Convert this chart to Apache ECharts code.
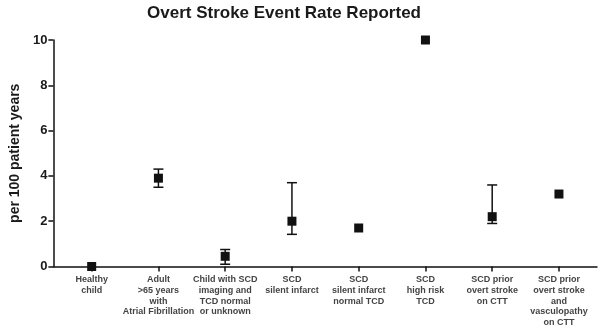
<!DOCTYPE html>
<html>
<head>
<meta charset="utf-8">
<script src="https://cdn.jsdelivr.net/npm/echarts@6/dist/echarts.min.js"></script>
<style>
  html, body { margin: 0; padding: 0; background: #fff; }
  #chart { width: 600px; height: 328px; }
</style>
</head>
<body>
<div id="chart"></div>
<script>
// categories along the x axis
const categories = [
  'Healthy\nchild',
  'Adult\n>65 years\nwith\nAtrial Fibrillation',
  'Child with SCD\nimaging and\nTCD normal\nor unknown',
  'SCD\nsilent infarct',
  'SCD\nsilent infarct\nnormal TCD',
  'SCD\nhigh risk\nTCD',
  'SCD prior\novert stroke\non CTT',
  'SCD prior\novert stroke\nand\nvasculopathy\non CTT'
];
// point estimates and error range (null = no bar)
const rates = [0, 3.9, 0.45, 2.0, 1.7, 10, 2.2, 3.2];
const lowVals = [null, 3.5, 0.1, 1.42, null, null, 1.9, null];
const highVals = [null, 4.3, 0.75, 3.7, null, null, 3.6, null];
const yTicks = [0, 2, 4, 6, 8, 10];

const chart = echarts.init(document.getElementById('chart'));
const font = 'Liberation Sans, Arial, sans-serif';

const pointData = rates.map((v, i) => [i, v]);
const errData = [];
rates.forEach((v, i) => {
  if (lowVals[i] !== null) errData.push([i, lowVals[i], highVals[i]]);
});

chart.setOption({
  animation: false,
  title: {
    text: 'Overt Stroke Event Rate Reported',
    left: 279, top: 0, textAlign: 'center',
    textStyle: { fontFamily: font, fontSize: 17, fontWeight: 'bold', color: '#1a1a1a' }
  },
  grid: { left: 43, right: 3, top: 40, bottom: 61 },
  xAxis: {
    type: 'value',
    min: -0.574, max: 7.57,
    axisLine: { show: true, onZero: false, lineStyle: { color: '#111', width: 1.5 } },
    axisTick: { show: true, length: 5, customValues: [0, 1, 2, 3, 4, 5, 6, 7], lineStyle: { color: '#111', width: 1.5 } },
    splitLine: { show: false },
    axisLabel: {
      customValues: [0, 1, 2, 3, 4, 5, 6, 7],
      formatter: v => categories[Math.round(v)],
      fontFamily: font, fontSize: 9, fontWeight: 'bold', color: '#444',
      lineHeight: 10.7, margin: 8, align: 'center'
    }
  },
  yAxis: {
    type: 'value',
    min: 0, max: 10, interval: 2,
    name: 'per 100 patient years',
    nameLocation: 'middle', nameGap: 27,
    nameTextStyle: { fontFamily: font, fontSize: 14, fontWeight: 'bold', color: '#1a1a1a' },
    axisLine: { show: true, onZero: false, lineStyle: { color: '#111', width: 1.5 } },
    axisTick: { show: true, length: 5, lineStyle: { color: '#111', width: 1.5 } },
    splitLine: { show: false },
    axisLabel: { fontFamily: font, fontSize: 13, fontWeight: 'bold', color: '#1a1a1a', margin: 6 }
  },
  series: [
    {
      type: 'custom',
      data: errData,
      renderItem: (params, api) => {
        const x = api.value(0);
        const lo = api.coord([x, api.value(1)]);
        const hi = api.coord([x, api.value(2)]);
        const w = 5;
        const st = { stroke: '#111', lineWidth: 1.5 };
        return {
          type: 'group',
          children: [
            { type: 'line', shape: { x1: lo[0], y1: lo[1], x2: hi[0], y2: hi[1] }, style: st },
            { type: 'line', shape: { x1: lo[0] - w, y1: lo[1], x2: lo[0] + w, y2: lo[1] }, style: st },
            { type: 'line', shape: { x1: hi[0] - w, y1: hi[1], x2: hi[0] + w, y2: hi[1] }, style: st }
          ]
        };
      },
      z: 2
    },
    {
      type: 'scatter',
      data: pointData,
      symbol: 'rect',
      symbolSize: 9,
      itemStyle: { color: '#111', opacity: 1 },
      z: 3
    }
  ]
});
</script>
</body>
</html>
